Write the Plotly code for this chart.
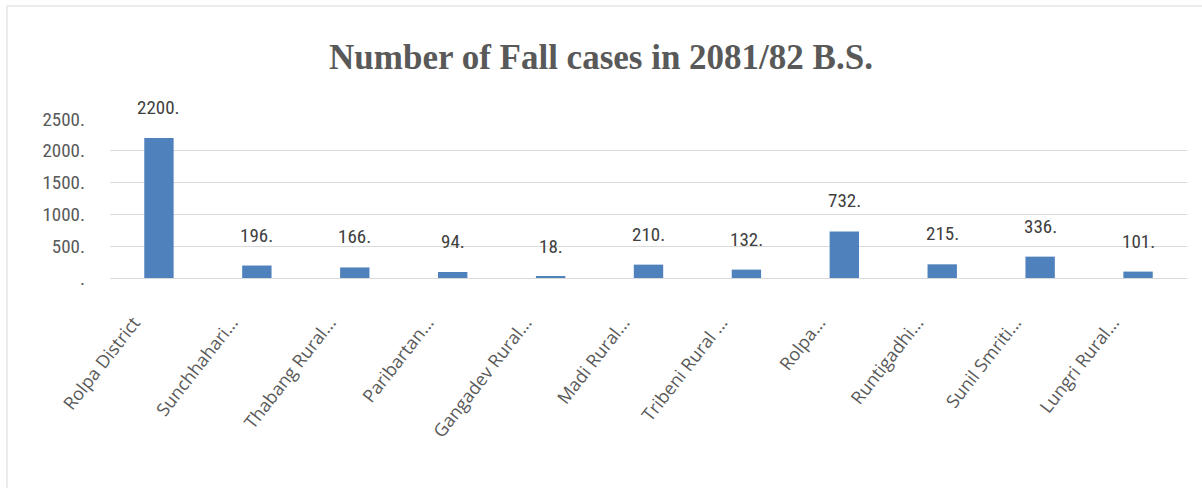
import plotly.graph_objects as go

categories = ["Rolpa District", "Sunchhahari...", "Thabang Rural...", "Paribartan...",
              "Gangadev Rural...", "Madi Rural...", "Tribeni Rural ...", "Rolpa...",
              "Runtigadhi...", "Sunil Smriti...", "Lungri Rural..."]
values = [2200, 196, 166, 94, 18, 210, 132, 732, 215, 336, 101]
tick_vals = [0, 500, 1000, 1500, 2000, 2500]
tick_text = [".", "500.", "1000.", "1500.", "2000.", "2500."]

W, H = 1202, 488
L, R, T, B = 110, 15, 119, 210
pw, ph = W - L - R, H - T - B

narrow = "Liberation Sans Narrow, Roboto Condensed, Liberation Sans"

fig = go.Figure(go.Bar(
    x=categories, y=values, width=0.30,
    marker=dict(color="#4f81bd", line=dict(width=0)),
    hoverinfo="skip",
))

for c, v in zip(categories, values):
    fig.add_annotation(x=c, y=v, text=f"{v}.", showarrow=False, yanchor="bottom",
                       yshift=17, font=dict(family=narrow, size=19, color="#404040"))

fig.update_layout(
    width=W, height=H, margin=dict(l=L, r=R, t=T, b=B),
    paper_bgcolor="white", plot_bgcolor="white",
    showlegend=False,
    title=dict(text="<b>Number of Fall cases in 2081/82 B.S.</b>", x=0.5, xanchor="center",
               y=1 - 57 / H, yanchor="middle",
               font=dict(family="Liberation Serif, Times New Roman, serif", size=35, color="#595959")),
    xaxis=dict(tickangle=-52, showgrid=False, showline=True, linecolor="#d9d9d9", linewidth=1,
               ticks="", tickfont=dict(family="Open Sans, Liberation Sans", size=18, color="#595959"),
               ticklabelstandoff=26, ticklabelshift=-25),
    yaxis=dict(range=[0, 2500], tickvals=tick_vals, ticktext=tick_text, showgrid=True,
               gridcolor="#d9d9d9", gridwidth=1, zeroline=False, showline=False, ticks="",
               tickfont=dict(family=narrow, size=19, color="#595959"),
               ticklabelstandoff=24),
)

fig.add_shape(type="rect", xref="paper", yref="paper",
              x0=-(L - 7) / pw, x1=1 + (R + 20) / pw,
              y0=-(B + 20) / ph, y1=1 + (T - 6) / ph,
              line=dict(color="#d9d9d9", width=1), fillcolor="rgba(0,0,0,0)", layer="below")

fig.write_html("out.html", config={"displayModeBar": False},
               post_script="document.body.style.margin='0';")
